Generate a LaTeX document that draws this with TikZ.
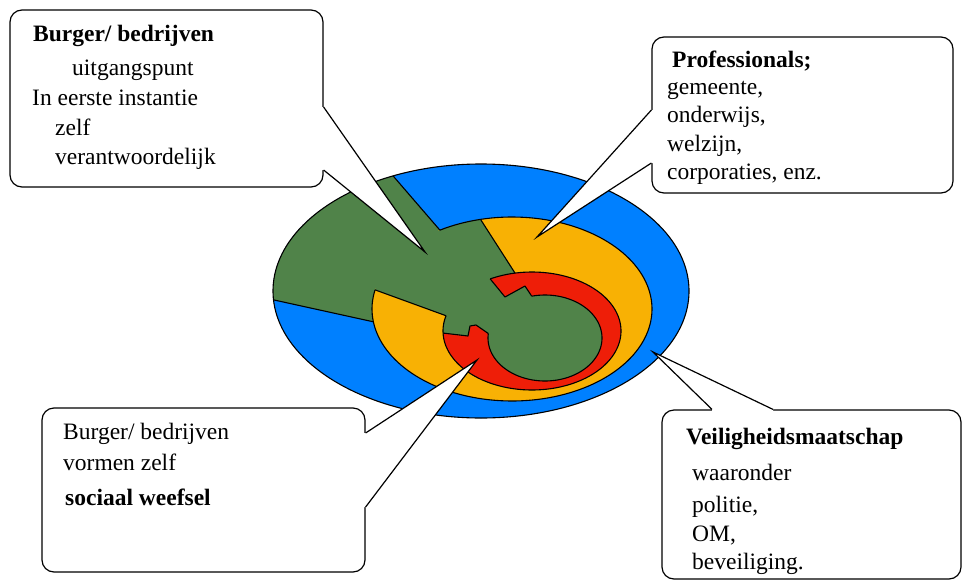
\documentclass[tikz,border=0pt]{standalone}
\usepackage{fontspec}
\setmainfont{Liberation Serif}
\usetikzlibrary{calc}
\definecolor{cblue}{RGB}{0,128,255}
\definecolor{cgreen}{RGB}{80,131,73}
\definecolor{cyellow}{RGB}{248,177,4}
\definecolor{cred}{RGB}{238,30,8}
\begin{document}
\begin{tikzpicture}[x=1pt,y=-1pt,
  outl/.style={draw=black, line width=1.1pt, line join=round},
  seam/.style={draw=cgreen, line width=1.8pt},
  callbox/.style={draw=black, line width=1.2pt, fill=white, rounded corners=12pt, inner sep=0pt},
  ptr/.style={draw=black, line width=1.2pt},
  txt/.style={anchor=base west, inner sep=0pt, font=\fontsize{23.5}{28}\selectfont},
  btxt/.style={anchor=base west, inner sep=0pt, font=\fontsize{23.5}{28}\selectfont\bfseries}]
\useasboundingbox (0,0) rectangle (963,581);

% key points on the ellipses
\coordinate (L1s) at ({481+208*cos(176)},{291+127*sin(176)});
\coordinate (L1e) at ({512+140*cos(172)},{309+92*sin(172)});
\coordinate (L2s) at ({481+208*cos(245)},{291+127*sin(245)});
\coordinate (L2e) at ({512+140*cos(239)},{309+92*sin(239)});
\coordinate (L3s) at ({512+140*cos(192)},{309+92*sin(192)});
\coordinate (L3e) at ({532+89*cos(195)},{331+59*sin(195)});
\coordinate (L4s) at ({512+140*cos(257)},{309+92*sin(257)});
\coordinate (L4e) at ({532+89*cos(259)},{331+59*sin(259)});
\coordinate (RJt) at ({532+89*cos(242)},{331+59*sin(242)});
\coordinate (RJb) at ({532+89*cos(178)},{331+59*sin(178)});
\coordinate (IJt) at ({545+57*cos(256.5)},{338+43*sin(256.5)});
\coordinate (IJb) at ({545+57*cos(186)},{338+43*sin(186)});

% fills
\fill[cblue] (481,291) ellipse [x radius=208pt, y radius=127pt];
\begin{scope}
  \clip (481,291) ellipse [x radius=208pt, y radius=127pt];
  \fill[cgreen] ($(L1e)!1.6!(L1s)$) -- (L1e) -- (470,320) -- (L2e) -- ($(L2e)!1.6!(L2s)$) -- (150,100) -- cycle;
\end{scope}
\fill[cyellow] (512,309) ellipse [x radius=140pt, y radius=92pt];
\begin{scope}
  \clip (512,309) ellipse [x radius=140pt, y radius=92pt];
  \fill[cgreen] ($(L3e)!1.5!(L3s)$) -- (L3e) -- (500,320) -- (L4e) -- ($(L4e)!1.6!(L4s)$) -- (300,150) -- cycle;
\end{scope}
\fill[cred] (532,331) ellipse [x radius=89pt, y radius=59pt];
\begin{scope}
  \clip (532,331) ellipse [x radius=89pt, y radius=59pt];
  \fill[cgreen] (RJb) -- (468,336) -- (470,326) -- (476,325) -- (IJb) -- (IJt) -- (525,286) -- (505,297) -- (RJt) -- (485,250) -- (400,250) -- (400,345) -- (420,335) -- cycle;
\end{scope}
\fill[cgreen] (545,338) ellipse [x radius=57pt, y radius=43pt];

% hide seams where green meets green
\draw[seam] plot[domain=193:238, samples=40] ({512+140*cos(\x)},{309+92*sin(\x)});
\draw[seam] plot[domain=196:241, samples=40] ({532+89*cos(\x)},{331+59*sin(\x)});

% outlines
\draw[outl] (481,291) ellipse [x radius=208pt, y radius=127pt];
\draw[outl] (L1s) -- (L1e);
\draw[outl] (L2s) -- (L2e);
\draw[outl] plot[domain=-121:192, samples=140] ({512+140*cos(\x)},{309+92*sin(\x)});
\draw[outl] (L3s) -- (L3e);
\draw[outl] (L4s) -- (L4e);
\draw[outl] plot[domain=242:555, samples=140] ({532+89*cos(\x)},{331+59*sin(\x)});
\draw[outl] (RJt) -- (505,297) -- (525,286) -- (IJt);
\draw[outl] (RJb) -- (468,336) -- (470,326) -- (476,325) -- (IJb);
\draw[outl] plot[domain=256.5:546, samples=120] ({545+57*cos(\x)},{338+43*sin(\x)});

% callout 1
\node[callbox, minimum width=313pt, minimum height=177pt] (b1) at (166.5,98.5) {};
\coordinate (t1) at (425,252);
\coordinate (p1a) at (b1.east |- 0,107);
\coordinate (p1b) at (b1.east |- 0,170);
\fill[white] ($(p1a)+(-4,0)$) -- (p1a) -- (t1) -- (p1b) -- ($(p1b)+(-4,0)$) -- cycle;
\draw[ptr] (p1a) -- (t1) -- (p1b);

% callout 2
\node[callbox, minimum width=301pt, minimum height=156pt] (b2) at (802.5,115) {};
\coordinate (t2) at (537,237);
\coordinate (p2a) at (b2.west |- 0,110);
\coordinate (p2b) at (b2.west |- 0,163);
\fill[white] ($(p2a)+(4,0)$) -- (p2a) -- (t2) -- (p2b) -- ($(p2b)+(4,0)$) -- cycle;
\draw[ptr] (p2a) -- (t2) -- (p2b);

% callout 3
\node[callbox, minimum width=323pt, minimum height=164pt] (b3) at (203.5,490) {};
\coordinate (t3) at (477,360);
\coordinate (p3a) at (b3.east |- 0,433);
\coordinate (p3b) at (b3.east |- 0,507);
\fill[white] ($(p3a)+(-4,0)$) -- (p3a) -- (t3) -- (p3b) -- ($(p3b)+(-4,0)$) -- cycle;
\draw[ptr] (p3a) -- (t3) -- (p3b);

% callout 4
\node[callbox, minimum width=299pt, minimum height=169pt] (b4) at (811.5,494.5) {};
\coordinate (t4) at (653,352);
\coordinate (p4a) at (b4.north -| 712,0);
\coordinate (p4b) at (b4.north -| 773,0);
\fill[white] ($(p4a)+(0,4)$) -- (p4a) -- (t4) -- (p4b) -- ($(p4b)+(0,4)$) -- cycle;
\draw[ptr] (p4a) -- (t4) -- (p4b);

% texts
\node[btxt] (x11) at (33,41) {Burger/ bedrijven};
\node[txt] (x12) at (72,75) {uitgangspunt};
\node[txt] (x13) at (32,105) {In eerste instantie};
\node[txt] (x14) at (55,135) {zelf};
\node[txt] (x15) at (55,164) {verantwoordelijk};

\node[btxt] (x21) at (672,67) {Professionals;};
\node[txt] (x22) at (667,94) {gemeente,};
\node[txt] (x23) at (667,122) {onderwijs,};
\node[txt] (x24) at (667,151) {welzijn,};
\node[txt] (x25) at (667,179) {corporaties, enz.};

\node[txt] (x31) at (63,439) {Burger/ bedrijven};
\node[txt] (x32) at (63,470) {vormen zelf};
\node[btxt] (x33) at (65,505) {sociaal weefsel};

\node[btxt] (x41) at (686,444) {Veiligheidsmaatschap};
\node[txt] (x42) at (692,480) {waaronder};
\node[txt] (x43) at (692,512) {politie,};
\node[txt] (x44) at (692,541) {OM,};
\node[txt] (x45) at (692,569) {beveiliging.};
\end{tikzpicture}
\end{document}
